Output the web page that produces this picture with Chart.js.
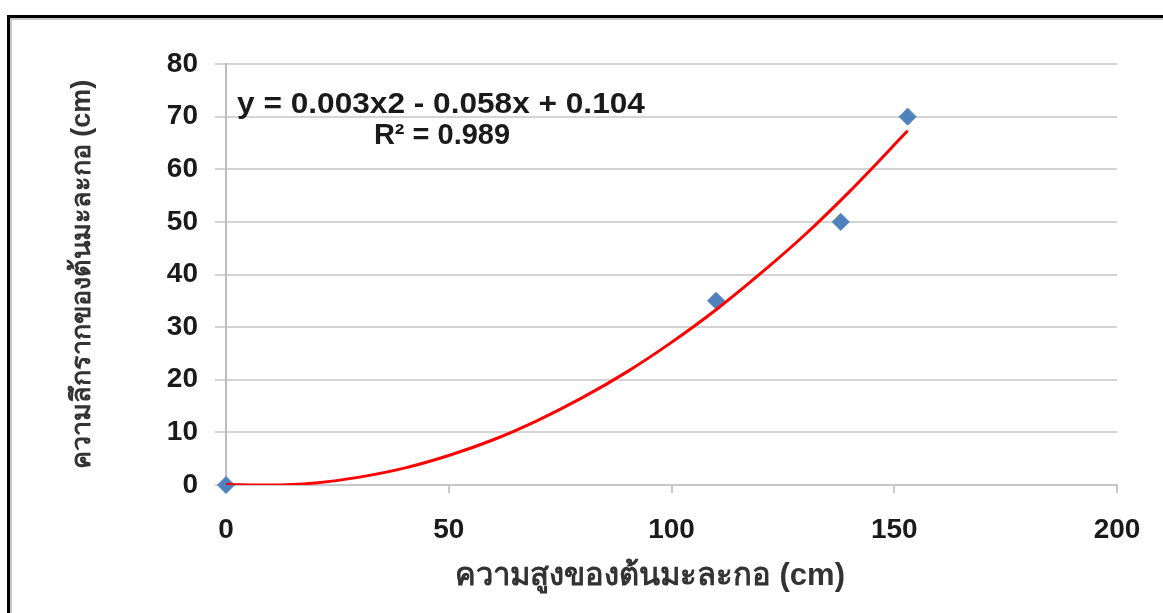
<!DOCTYPE html>
<html>
<head>
<meta charset="utf-8">
<script src="https://cdn.jsdelivr.net/npm/chart.js@4/dist/chart.umd.min.js"></script>
<style>
  body { margin: 0; background: #fff; }
  canvas { display: block; }
</style>
</head>
<body>
<canvas id="rootChart" width="1163" height="613"></canvas>
<script>
// measured points: plant height (x) vs root depth (y)
var heights = [0, 110, 138, 153];
var rootDepth = [0, 35, 50, 70];

// red trend curve
var trendX = [0, 10, 20, 30, 40, 50, 60, 70, 80, 90, 100, 110, 120, 130, 140, 153];
var trendY = [0.1, 0, 0.4, 1.5, 3.2, 5.6, 8.6, 12.3, 16.6, 21.5, 27.1, 33.3, 40.2, 47.6, 55.8, 67.3];

var xTicks = [0, 50, 100, 150, 200];
var yTicks = [0, 10, 20, 30, 40, 50, 60, 70, 80];

var eqText = "y = 0.003x2 - 0.058x + 0.104";
var r2Text = "R² = 0.989";
var xTitle = "ความสูงของต้นมะละกอ (cm)\u00a0\u00a0\u00a0\u00a0\u00a0";
var yTitle = "ความลึกรากของต้นมะละกอ (cm)";

var FONT = "'Liberation Sans', Arial, sans-serif";

var pts = heights.map(function (h, i) { return { x: h, y: rootDepth[i] }; });
var trend = trendX.map(function (h, i) { return { x: h, y: trendY[i] }; });

// black frame + equation label
var framePlugin = {
    id: 'frame',
    beforeDraw: function (chart) {
        var c = chart.ctx;
        c.save();
        c.fillStyle = "#000";
        c.fillRect(7, 15, 1156, 3);
        c.fillRect(7, 15, 3, 598);
        c.fillStyle = "#c8c8c8";
        c.fillRect(10, 18, 1153, 2);
        c.fillRect(10, 18, 2, 595);
        c.restore();
    },
    afterDatasetsDraw: function (chart) {
        var c = chart.ctx;
        c.save();
        c.fillStyle = "#1a1a1a";
        c.font = "bold 29px " + FONT;
        c.textAlign = "center";
        c.textBaseline = "alphabetic";
        c.save();
        c.translate(441, 113);
        c.scale(1.09, 1);
        c.fillText(eqText, 0, 0);
        c.restore();
        c.fillText(r2Text, 442, 144);
        c.restore();
    }
};

var ctx = document.getElementById("rootChart").getContext("2d");
var rootChart = new Chart(ctx, {
    type: 'scatter',
    data: {
        datasets: [{
            label: 'trend',
            data: trend,
            showLine: true,
            borderColor: "#ff0000",
            borderWidth: 3,
            pointRadius: 0,
            cubicInterpolationMode: 'monotone'
        }, {
            label: 'data',
            data: pts,
            clip: false,
            pointStyle: 'rectRot',
            pointRadius: 8.5,
            backgroundColor: "#4f81bd",
            borderColor: "#4f81bd",
            borderWidth: 1
        }]
    },
    options: {
        responsive: false,
        animation: false,
        layout: { padding: { left: 0, right: 46, top: 64, bottom: 0 } },
        plugins: { legend: { display: false }, tooltip: { enabled: false } },
        scales: {
            x: {
                type: 'linear',
                min: 0,
                max: 200,
                afterFit: function (s) { s.height = 128; },
                afterBuildTicks: function (s) { s.ticks = xTicks.map(function (v) { return { value: v }; }); },
                ticks: {
                    color: "#1a1a1a",
                    padding: 20,
                    font: { family: FONT, size: 28, weight: 'bold' }
                },
                grid: {
                    drawOnChartArea: false,
                    drawTicks: true,
                    tickLength: 8,
                    color: "#c8c8c8",
                    lineWidth: 2
                },
                border: { color: "#c8c8c8", width: 2 },
                title: {
                    display: true,
                    text: xTitle,
                    color: "#333",
                    padding: { top: 0, bottom: 18 },
                    font: { family: FONT, size: 31, weight: 'bold' }
                }
            },
            y: {
                type: 'linear',
                min: 0,
                max: 80,
                afterFit: function (s) { s.width = 226; },
                afterBuildTicks: function (s) { s.ticks = yTicks.map(function (v) { return { value: v }; }); },
                ticks: {
                    color: "#1a1a1a",
                    padding: 17,
                    font: { family: FONT, size: 28, weight: 'bold' }
                },
                grid: {
                    color: "#d4d4d4",
                    lineWidth: 2,
                    tickLength: 11
                },
                border: { color: "#bdbdbd", width: 2 },
                title: {
                    display: true,
                    text: yTitle,
                    color: "#333",
                    padding: { top: 66, bottom: 0 },
                    font: { family: FONT, size: 27, weight: 'bold' }
                }
            }
        }
    },
    plugins: [framePlugin]
});
</script>
</body>
</html>
